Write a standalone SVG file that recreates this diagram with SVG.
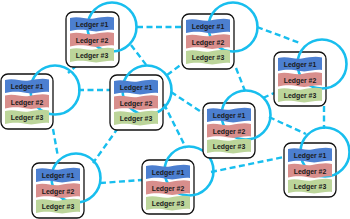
<svg xmlns="http://www.w3.org/2000/svg" xmlns:xlink="http://www.w3.org/1999/xlink" width="350" height="219" viewBox="0 0 350 219">
<style>
.box{fill:#fff;stroke:#111;stroke-width:1.3}
.ring{fill:none;stroke:#18BEEE;stroke-width:2.6}
.conn{stroke:#18BEEE;stroke-width:2.4;stroke-dasharray:6 3.5;fill:none}
.b1{fill:#4C7FD0}.b2{fill:#D88E8C}.b3{fill:#BCD59A}
.t{font-family:"Liberation Sans",Arial,sans-serif;font-size:6.9px;font-weight:bold;fill:#1a1a1a;text-anchor:middle}
</style>
<defs>
<path id="flag" d="M0,1 C10,-1.5 16,3 24,1.5 S38,-1 44,0.5 L44,13 C36,12 30,15.5 22,14 S8,12 0,14 Z"/>
<g id="ledgers">
<use xlink:href="#flag" class="b1" x="4" y="5"/>
<use xlink:href="#flag" class="b2" x="4" y="20.5"/>
<use xlink:href="#flag" class="b3" x="4" y="36"/>
<text class="t" x="26" y="15.2">Ledger #1</text>
<text class="t" x="26" y="30.7">Ledger #2</text>
<text class="t" x="26" y="46.2">Ledger #3</text>
</g>
</defs>
<g id="connectors">
<line class="conn" x1="137" y1="27" x2="182" y2="27"/>
<line class="conn" x1="131" y1="45" x2="147" y2="66"/>
<line class="conn" x1="77" y1="65" x2="68" y2="73"/>
<line class="conn" x1="78" y1="90" x2="110" y2="90"/>
<line class="conn" x1="53" y1="129" x2="58" y2="157"/>
<line class="conn" x1="118" y1="128" x2="93" y2="163"/>
<line class="conn" x1="100" y1="183" x2="142" y2="180"/>
<line class="conn" x1="167" y1="75" x2="182" y2="64"/>
<line class="conn" x1="164" y1="104" x2="186" y2="148"/>
<line class="conn" x1="171" y1="92" x2="203" y2="113"/>
<line class="conn" x1="257" y1="27" x2="300" y2="43"/>
<line class="conn" x1="236" y1="68" x2="245" y2="91"/>
<line class="conn" x1="263" y1="98" x2="274" y2="93"/>
<line class="conn" x1="324" y1="106" x2="324" y2="129"/>
<line class="conn" x1="269" y1="117" x2="306" y2="134"/>
<line class="conn" x1="211" y1="172" x2="284" y2="157"/>
</g>
<g id="nodeA" transform="translate(66,12)">
<rect class="box" x="0" y="0" width="53" height="55" rx="7"/>
<circle class="ring" cx="46" cy="15" r="24.5"/>
<use xlink:href="#ledgers"/>
</g>
<g id="nodeB" transform="translate(1,74)">
<rect class="box" x="0" y="0" width="52" height="55" rx="7"/>
<circle class="ring" cx="54" cy="16" r="24.5"/>
<use xlink:href="#ledgers"/>
</g>
<g id="nodeC" transform="translate(110,75)">
<rect class="box" x="0" y="0" width="53" height="55" rx="7"/>
<circle class="ring" cx="37" cy="15" r="24.5"/>
<use xlink:href="#ledgers"/>
</g>
<g id="nodeD" transform="translate(32,163)">
<rect class="box" x="0" y="0" width="52" height="55" rx="7"/>
<circle class="ring" cx="44" cy="15" r="24.5"/>
<use xlink:href="#ledgers"/>
</g>
<g id="nodeE" transform="translate(142,160)">
<rect class="box" x="0" y="0" width="52" height="54" rx="7"/>
<circle class="ring" cx="47" cy="11" r="24.5"/>
<use xlink:href="#ledgers"/>
</g>
<g id="nodeF" transform="translate(182,14)">
<rect class="box" x="0" y="0" width="52" height="55" rx="7"/>
<circle class="ring" cx="51" cy="13" r="24.5"/>
<use xlink:href="#ledgers"/>
</g>
<g id="nodeG" transform="translate(274,52)">
<rect class="box" x="0" y="0" width="52" height="54" rx="7"/>
<circle class="ring" cx="48" cy="12" r="24.5"/>
<use xlink:href="#ledgers"/>
</g>
<g id="nodeH" transform="translate(203,103)">
<rect class="box" x="0" y="0" width="52" height="55" rx="7"/>
<circle class="ring" cx="43" cy="12" r="24.5"/>
<use xlink:href="#ledgers"/>
</g>
<g id="nodeI" transform="translate(284,143)">
<rect class="box" x="0" y="0" width="52" height="54" rx="7"/>
<circle class="ring" cx="41" cy="9" r="24.5"/>
<use xlink:href="#ledgers"/>
</g>
</svg>
